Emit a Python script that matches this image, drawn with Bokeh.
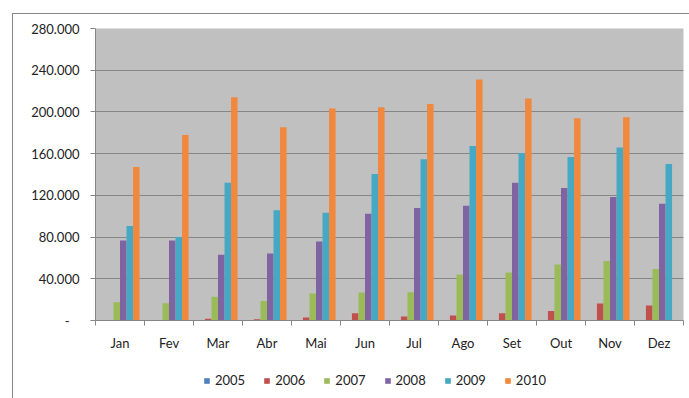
from bokeh.plotting import figure
from bokeh.layouts import column
from bokeh.models import ColumnDataSource, FixedTicker, Legend, LegendItem, Range1d
from bokeh.embed import file_html
from bokeh.resources import INLINE

# Monthly values per year
months = ["Jan", "Fev", "Mar", "Abr", "Mai", "Jun",
          "Jul", "Ago", "Set", "Out", "Nov", "Dez"]
years = ["2005", "2006", "2007", "2008", "2009", "2010"]

v2005 = [0, 0, 0, 0, 0, 0, 0, 0, 0, 0, 0, 0]
v2006 = [0, 0, 1600, 1300, 2900, 7000, 3800, 4800, 7000, 9000, 16300, 14400]
v2007 = [17600, 16600, 22700, 18600, 25900, 26900, 27200, 44200, 46000, 53800, 57000, 49300]
v2008 = [76800, 76800, 63000, 64300, 75800, 102400, 107800, 110000, 132200, 127000, 118400, 112000]
v2009 = [90600, 80000, 132200, 105600, 103400, 140500, 154600, 167400, 160600, 156800, 166000, 150000]
v2010 = [147200, 177900, 214000, 185300, 203200, 204500, 207700, 231000, 212800, 194000, 195000, 0]

y_ticks = [0, 40000, 80000, 120000, 160000, 200000, 240000, 280000]
y_tick_labels = ["-\u00a0\u00a0\u00a0", "40.000", "80.000", "120.000",
                 "160.000", "200.000", "240.000", "280.000"]

colors = ["#4F81BD", "#C0504D", "#9BBB59", "#8064A2", "#45A8C4", "#F0883E"]
series = [v2005, v2006, v2007, v2008, v2009, v2010]

FONT = "Lato"
GRAY = "#868686"
TEXT = "#222222"
LINE = "linear-gradient(#868686, #868686)"

p = figure(width=689, height=353, x_range=Range1d(0, 12), y_range=Range1d(0, 280000),
           output_backend="svg", toolbar_location=None,
           min_border_left=95, min_border_right=6, min_border_top=28,
           min_border_bottom=33)
# chart-area frame: thin lines along the top and left, painted behind a transparent canvas
p.border_fill_alpha = 0
p.styles = {
    "background-color": "white",
    "background-image": f"{LINE}, {LINE}",
    "background-position": "12px 13px, 12px 13px",
    "background-size": "1px 100%, 100% 1px",
    "background-repeat": "no-repeat",
}
p.background_fill_color = "#C0C0C0"
p.outline_line_color = None

centers = [i + 0.5 for i in range(len(months))]
bar_w = 1 / 7.5  # six bars plus a 150% gap per category

for k, (name, vals, col) in enumerate(zip(years, series, colors)):
    src = ColumnDataSource(dict(x=[c + (k - 2.5) * bar_w for c in centers], top=vals))
    p.vbar(x="x", top="top", bottom=0, width=bar_w, source=src,
           fill_color=col, line_color=None)

# Axes
p.xgrid.visible = False
p.ygrid.grid_line_color = GRAY
p.ygrid.grid_line_width = 1

p.xaxis.ticker = FixedTicker(ticks=centers, minor_ticks=list(range(13)))
p.xaxis.major_label_overrides = {c: m for c, m in zip(centers, months)}
p.xaxis.major_tick_line_color = None
p.xaxis.minor_tick_line_color = GRAY
p.xaxis.minor_tick_in = 0
p.xaxis.minor_tick_out = 5
p.xaxis.major_label_standoff = 8

p.yaxis.ticker = FixedTicker(ticks=y_ticks)
p.yaxis.major_label_overrides = {t: s for t, s in zip(y_ticks, y_tick_labels)}
p.yaxis.major_tick_line_color = GRAY
p.yaxis.major_tick_in = 0
p.yaxis.major_tick_out = 5
p.yaxis.minor_tick_line_color = None
p.yaxis.major_label_standoff = 11

for ax in (p.xaxis[0], p.yaxis[0]):
    ax.axis_line_color = GRAY
    ax.major_label_text_font = FONT
    ax.major_label_text_font_size = "13px"
    ax.major_label_text_color = TEXT

# Legend strip under the chart (its frame lines up with the chart's frame)
leg = figure(width=689, height=45, x_range=Range1d(0, 1), y_range=Range1d(0, 1),
             output_backend="svg", toolbar_location=None,
             min_border_left=0, min_border_right=0, min_border_top=0,
             min_border_bottom=0)
leg.axis.visible = False
leg.grid.visible = False
leg.outline_line_color = None
leg.background_fill_alpha = 0
leg.border_fill_alpha = 0
leg.styles = {
    "background-color": "white",
    "background-image": LINE,
    "background-position": "12px 0px",
    "background-size": "1px 100%",
    "background-repeat": "no-repeat",
}

items = []
for name, col in zip(years, colors):
    # zero-height swatch source, only used for the legend key
    swatch = leg.vbar(x=[5], top=[0], bottom=0, width=0.1, fill_color=col, line_color=None)
    items.append(LegendItem(label=name, renderers=[swatch]))

legend = Legend(items=items, orientation="horizontal", location=(108, 10),
                glyph_width=7, glyph_height=7, label_standoff=5, spacing=18,
                padding=0, margin=0, border_line_color=None,
                background_fill_alpha=0,
                label_text_font=FONT, label_text_font_size="13px",
                label_text_color=TEXT)
leg.add_layout(legend)

layout = column(p, leg, spacing=0)
open("out.html", "w").write(file_html(layout, INLINE))
